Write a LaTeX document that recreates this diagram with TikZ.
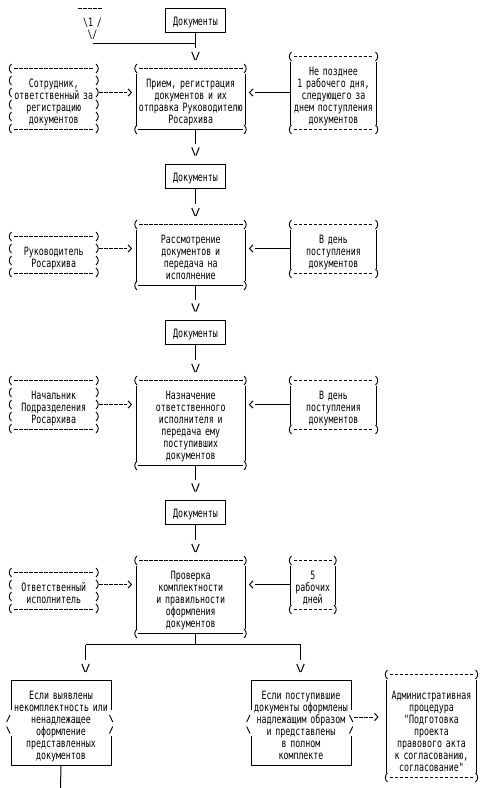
\documentclass[tikz,border=0pt]{standalone}
\usepackage{fontspec}
\newfontfamily\pxfont[FakeStretch=0.72]{DejaVu Sans Mono}
\usetikzlibrary{calc}

\pgfdeclarearrow{
  name = vglyph,
  setup code = {
    \pgfarrowssettipend{0pt}
    \pgfarrowssetlineend{-12.5pt}
    \pgfarrowssetbackend{-9pt}
    \pgfarrowshullpoint{0pt}{0pt}
    \pgfarrowshullpoint{-9pt}{4pt}
    \pgfarrowshullpoint{-9pt}{-4pt}
  },
  drawing code = {
    \pgfsetdash{}{0pt}
    \pgfpathmoveto{\pgfqpoint{-8.6pt}{3.7pt}}
    \pgfpathlineto{\pgfqpoint{-0.5pt}{0.5pt}}
    \pgfpathmoveto{\pgfqpoint{-8.6pt}{-3.7pt}}
    \pgfpathlineto{\pgfqpoint{-0.5pt}{-0.5pt}}
    \pgfusepathqstroke
  },
}
\pgfdeclarearrow{
  name = gglyph,
  setup code = {
    \pgfarrowssettipend{0pt}
    \pgfarrowssetlineend{-5.5pt}
    \pgfarrowssetbackend{-4pt}
    \pgfarrowshullpoint{0pt}{0pt}
    \pgfarrowshullpoint{-4pt}{3.6pt}
    \pgfarrowshullpoint{-4pt}{-3.6pt}
  },
  drawing code = {
    \pgfsetdash{}{0pt}
    \pgfpathmoveto{\pgfqpoint{-4pt}{3.6pt}}
    \pgfpathlineto{\pgfqpoint{-0.5pt}{0pt}}
    \pgfpathlineto{\pgfqpoint{-4pt}{-3.6pt}}
    \pgfusepathqstroke
  },
}

\newcommand\lparat[2]{\draw[gl,shift={(#1)}] (0,{#2-4.5}) .. controls (-3,{#2-2}) and (-3,{#2+2}) .. (0,{#2+4.5});}
\newcommand\rparat[2]{\draw[gl,shift={(#1)}] (0,{#2-4.5}) .. controls (3,{#2-2}) and (3,{#2+2}) .. (0,{#2+4.5});}

\newcommand\leftborder[2]{%
  \foreach \i in {0,...,#2}{\lparat{#1.north west}{12*\i}\rparat{#1.north east}{12*\i}}%
  \draw[hy] ([xshift=2.5pt]#1.north west) -- ([xshift=-2.5pt]#1.north east);%
  \draw[hy] ([xshift=2.5pt]#1.south west) -- ([xshift=-2.5pt]#1.south east);}

\newcommand\rightborder[1]{%
  \lparat{$(#1.north west)+(1,0)$}{0}\rparat{$(#1.north east)+(-1,0)$}{0}%
  \lparat{$(#1.south west)+(1,0)$}{0}\rparat{$(#1.south east)+(-1,0)$}{0}%
  \draw[hy] ([xshift=3pt]#1.north west) -- ([xshift=-3pt]#1.north east);%
  \draw[hy] ([xshift=3pt]#1.south west) -- ([xshift=-3pt]#1.south east);%
  \draw ([yshift=-5pt]#1.north west) -- ([yshift=5pt]#1.south west);%
  \draw ([yshift=-5pt]#1.north east) -- ([yshift=5pt]#1.south east);}

\newcommand\mainborder[1]{%
  \lparat{$(#1.north west)+(1,0)$}{0}\rparat{$(#1.north east)+(-1.5,0)$}{0}%
  \lparat{$(#1.south west)+(1,0)$}{0}\rparat{$(#1.south east)+(-1.5,0)$}{0}%
  \draw[hy] ([xshift=3pt]#1.north west) -- ([xshift=-3pt]#1.north east);%
  \draw ([xshift=2pt]#1.south west) -- ([xshift=-2.5pt]#1.south east);%
  \draw ([yshift=-5pt]#1.north west) -- ([yshift=5pt]#1.south west);%
  \draw ([yshift=-5pt]#1.north east) -- ([yshift=5pt]#1.south east);}

\newcommand\decborder[1]{%
  \draw ([yshift=-29.5pt]#1.north west) -- (#1.north west) -- (#1.north east) -- ([yshift=-29.5pt]#1.north east);%
  \draw ([yshift=-55.5pt]#1.north west) -- (#1.south west) -- (#1.south east) -- ([yshift=-55.5pt]#1.north east);%
  \draw[gl] ($(#1.north west)+(-1,34.5)$) -- ($(#1.north west)+(-4.3,41.5)$);%
  \draw[gl] ($(#1.north west)+(-4.3,46)$) -- ($(#1.north west)+(-1,53)$);%
  \draw[gl] ($(#1.north east)+(-1.5,34.5)$) -- ($(#1.north east)+(1.8,41.5)$);%
  \draw[gl] ($(#1.north east)+(1.8,46)$) -- ($(#1.north east)+(-1.5,53)$);}

\begin{document}
\begin{tikzpicture}[x=1pt,y=-1pt,line width=1pt,
  pxf/.style={font=\pxfont\fontsize{11.5}{12}\selectfont},
  bx/.style={pxf, align=center, inner sep=0pt, anchor=north west},
  doc/.style={pxf, draw, inner sep=0pt, minimum width=60pt, minimum height=24pt, text height=10pt, text depth=0pt},
  hy/.style={dash pattern=on 3.5pt off 1.5pt},
  gl/.style={line width=0.9pt},
  flow/.style={-vglyph, shorten >=8pt},
  dflow/.style={hy, -gglyph, shorten <=3pt, shorten >=4pt},
  sflow/.style={-gglyph, shorten >=3.5pt},
]
\useasboundingbox (0,0) rectangle (485,788);
\fill[white] (0,0) rectangle (485,788);

% off-page connector
\node[pxf, align=center, text width=25pt, inner sep=0pt, anchor=base] (conn) at (92.5,26.7) {\textbackslash 1\ /\\\textbackslash/};
\draw[hy] (78,8.5) -- (102.5,8.5);

% documents boxes
\node[doc] (d1) at (195.5,20.5) {Документы};
\node[doc] (d2) at (195.5,176.5) {Документы};
\node[doc] (d3) at (195.5,332.5) {Документы};
\node[doc] (d4) at (195.5,512.5) {Документы};

% main boxes
\node[bx, text width=108.5pt, text height=18.2pt, text depth=41.8pt] (M1) at (136,68.5) {Прием, регистрация\\документов и их\\отправка Руководителю\\Росархива};
\node[bx, text width=108.5pt, text height=18.2pt, text depth=41.8pt] (M2) at (136,224.5) {Рассмотрение\\документов и\\передача на\\исполнение};
\node[bx, text width=108.5pt, text height=18.2pt, text depth=65.8pt] (M3) at (136,380.5) {Назначение\\ответственного\\исполнителя и\\передача ему\\поступивших\\документов};
\node[bx, text width=108.5pt, text height=18.2pt, text depth=53.8pt] (M4) at (136,560.5) {Проверка\\комплектности\\и правильности\\оформления\\документов};

% left boxes
\node[bx, text width=83.5pt, text height=18.2pt, text depth=41.8pt] (L1) at (11.5,68.5) {Сотрудник,\\ответственный за\\регистрацию\\документов};
\node[bx, text width=83.5pt, text height=18.2pt, text depth=17.8pt] (L2) at (11.5,236.5) {Руководитель\\Росархива};
\node[bx, text width=83.5pt, text height=18.2pt, text depth=29.8pt] (L3) at (11.5,380.5) {Начальник\\Подразделения\\Росархива};
\node[bx, text width=83.5pt, text height=18.2pt, text depth=17.8pt] (L4) at (11.5,572.5) {Ответственный\\исполнитель};

% right boxes
\node[bx, text width=85pt, text height=18.2pt, text depth=53.8pt] (R1) at (290.5,56.5) {Не позднее\\1 рабочего дня,\\следующего за\\днем поступления\\документов};
\node[bx, text width=85pt, text height=18.2pt, text depth=29.8pt] (R2) at (290.5,224.5) {В день\\поступления\\документов};
\node[bx, text width=85pt, text height=18.2pt, text depth=29.8pt] (R3) at (290.5,380.5) {В день\\поступления\\документов};
\node[bx, text width=43.5pt, text height=18.2pt, text depth=29.8pt] (R4) at (290.5,560.5) {5\\рабочих\\дней};

% decisions and final procedure
\node[bx, text width=99pt, text height=18.2pt, text depth=65.8pt] (D1) at (11,680.5) {Если выявлены\\некомплектность или\\ненадлежащее\\оформление\\представленных\\документов};
\node[bx, text width=99pt, text height=18.2pt, text depth=65.8pt] (D2) at (251,680.5) {Если поступившие\\документы оформлены\\надлежащим образом\\и представлены\\в полном\\комплекте};
\node[bx, text width=89pt, text height=24.2pt, text depth=77.8pt] (A) at (386.5,674.5) {Административная\\процедура\\"Подготовка\\проекта\\правового акта\\к согласованию,\\согласование"};

% borders
\mainborder{M1}\mainborder{M2}\mainborder{M3}\mainborder{M4}
\leftborder{L1}{5}\leftborder{L2}{3}\leftborder{L3}{4}\leftborder{L4}{3}
\rightborder{R1}\rightborder{R2}\rightborder{R3}\rightborder{R4}
\rightborder{A}
\decborder{D1}\decborder{D2}

% coordinates
\coordinate (j1) at (195.5,43.5);
\coordinate (br) at (195.5,644.5);
\coordinate (brL) at (85.5,644.5);
\coordinate (brR) at (300.5,644.5);
\coordinate (e1) at (60.5,788);

% main flow
\draw (conn.south |- j1) -- (j1);
\draw[flow] (d1.south) -- (d1.south |- M1.north);
\draw[flow] (M1.south -| d1) -- (d2.north);
\draw[flow] (d2.south) -- (d2.south |- M2.north);
\draw[flow] (M2.south -| d2) -- (d3.north);
\draw[flow] (d3.south) -- (d3.south |- M3.north);
\draw[flow] (M3.south -| d3) -- (d4.north);
\draw[flow] (d4.south) -- (d4.south |- M4.north);
\draw (M4.south -| br) -- (br);
\draw (brL) -- (brR);
\draw[flow] (brL) -- (brL |- D1.north);
\draw[flow] (brR) -- (brR |- D2.north);
\draw (D1.south) -- (e1);

% side arrows
\draw[dflow] (L1.east |- 0,92.5) -- (M1.west |- 0,92.5);
\draw[sflow] (R1.west |- 0,92.5) -- (M1.east |- 0,92.5);
\draw[dflow] (L2.east |- 0,248.5) -- (M2.west |- 0,248.5);
\draw[sflow] (R2.west |- 0,248.5) -- (M2.east |- 0,248.5);
\draw[dflow] (L3.east |- 0,404.5) -- (M3.west |- 0,404.5);
\draw[sflow] (R3.west |- 0,404.5) -- (M3.east |- 0,404.5);
\draw[dflow] (L4.east |- 0,584.5) -- (M4.west |- 0,584.5);
\draw[sflow] (R4.west |- 0,584.5) -- (M4.east |- 0,584.5);
\draw[dflow, shorten >=8pt] (D2.east |- 0,717) -- (A.west |- 0,717);
\end{tikzpicture}
\end{document}
